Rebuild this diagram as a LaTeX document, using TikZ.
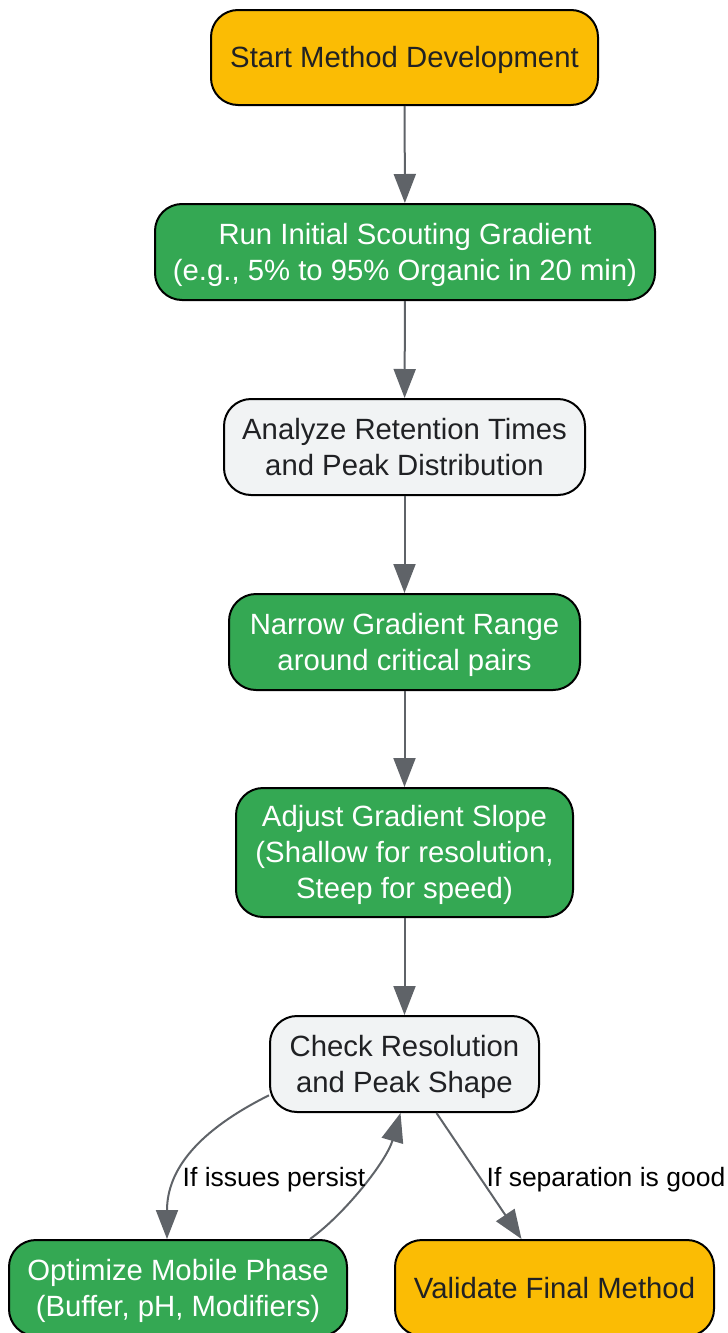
\documentclass[tikz,border=0pt]{standalone}
\usepackage{fontspec}
\setmainfont{Liberation Sans}
\usetikzlibrary{arrows.meta}
\definecolor{cyellow}{HTML}{FBBC04}
\definecolor{cgreen}{HTML}{34A853}
\definecolor{cgray}{HTML}{F1F3F4}
\definecolor{cedge}{HTML}{5F6368}
\definecolor{ctext}{HTML}{202124}
\newcommand{\ls}{\vrule height 28pt depth 8pt width 0pt\relax}
\tikzset{
  box/.style={draw=black, line width=2pt, rounded corners=27pt, align=center, inner sep=0pt,
    font=\fontsize{29.3}{36}\selectfont},
  ybox/.style={box, fill=cyellow, text=ctext},
  gbox/.style={box, fill=cgreen, text=white},
  lbox/.style={box, fill=cgray, text=ctext},
  conn/.style={draw=cedge, line width=2pt, -{Triangle[length=29pt,width=22pt]}},
  elabel/.style={font=\fontsize{26.5}{32}\selectfont, text=black, inner sep=0pt}
}
\begin{document}
\begin{tikzpicture}[x=1pt,y=-1pt]
\useasboundingbox (0,0) rectangle (728,1333);
\node[ybox, minimum width=387pt, minimum height=95pt] (start) at (404.5,57.5) {\ls Start Method Development};
\node[gbox, minimum width=500pt, minimum height=96pt] (run) at (405,252) {\ls Run Initial Scouting Gradient\\\ls (e.g., 5\% to 95\% Organic in 20 min)};
\node[lbox, minimum width=361pt, minimum height=96pt] (analyze) at (404.5,447) {\ls Analyze Retention Times\\\ls and Peak Distribution};
\node[gbox, minimum width=351pt, minimum height=96pt] (narrow) at (404.5,642) {\ls Narrow Gradient Range\\\ls around critical pairs};
\node[gbox, minimum width=337pt, minimum height=129pt] (adjust) at (404.5,852.5) {\ls Adjust Gradient Slope\\\ls (Shallow for resolution,\\\ls Steep for speed)};
\node[lbox, minimum width=269pt, minimum height=96pt] (check) at (404.5,1064) {\ls Check Resolution\\\ls and Peak Shape};
\node[gbox, minimum width=338pt, minimum height=96pt] (opt) at (178,1288) {\ls Optimize Mobile Phase\\\ls (Buffer, pH, Modifiers)};
\node[ybox, minimum width=319pt, minimum height=96pt] (val) at (554.5,1288) {\ls Validate Final Method};

\draw[conn] (start) -- (run);
\draw[conn] (run) -- (analyze);
\draw[conn] (analyze) -- (narrow);
\draw[conn] (narrow) -- (adjust);
\draw[conn] (adjust) -- (check);
\draw[conn] (check.193) .. controls +(-70,35) and +(0,-70) .. ([xshift=-11pt]opt.north);
\draw[conn] ([xshift=132pt]opt.north) .. controls +(35,-25) and +(-14,48) .. ([xshift=-4pt]check.south);
\draw[conn] ([xshift=32pt]check.south) -- ([xshift=-33pt]val.north);
\node[elabel] (l1) at (274,1180) {If issues persist};
\node[elabel] (l2) at (606,1180) {If separation is good};
\end{tikzpicture}
\end{document}
